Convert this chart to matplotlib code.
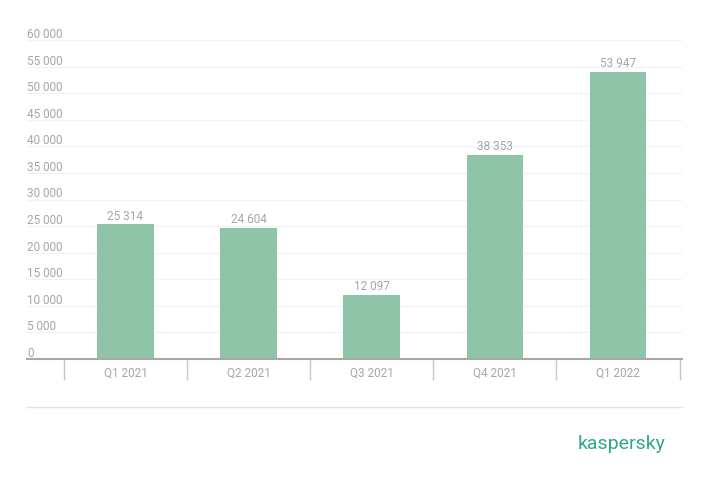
import matplotlib
matplotlib.use("Agg")
import matplotlib.pyplot as plt
from matplotlib.lines import Line2D
from matplotlib.ticker import FixedLocator, NullFormatter

QUARTERS = ['Q1 2021', 'Q2 2021', 'Q3 2021', 'Q4 2021', 'Q1 2022']
ATTACKS = [25314, 24604, 12097, 38353, 53947]
Y_TICKS = list(range(0, 60001, 5000))

BAR_COLOR = '#8fc4a8'
TEXT_COLOR = '#a6a6a6'


def fmt(v):
    return f'{v:,}'.replace(',', ' ')


plt.rcParams['font.family'] = ['Roboto', 'DejaVu Sans']

fig = plt.figure(figsize=(7.08, 4.81), dpi=100)
ax = fig.add_axes([27 / 708, 1 - 360 / 481, 655 / 708, (360 - 41) / 481])

x = list(range(len(QUARTERS)))
ax.bar(x, ATTACKS, width=0.46, color=BAR_COLOR, zorder=2)

for xi, v in zip(x, ATTACKS):
    ax.annotate(fmt(v), (xi, v), xytext=(0, 2), textcoords='offset points',
                ha='center', va='bottom', fontsize=8.5, color=TEXT_COLOR)

ax.set_xlim(-0.8, len(QUARTERS) - 0.48)
ax.set_ylim(0, 60000)

# horizontal grid with labels sitting above each line
for t in Y_TICKS:
    if t > 0:
        ax.axhline(t, color='#f2f2f2', linewidth=0.9, zorder=0)
    ax.text(0.0, t, fmt(t), transform=ax.get_yaxis_transform(),
            ha='left', va='bottom', fontsize=8.5, color=TEXT_COLOR)

ax.set_yticks([])
for side in ['top', 'right', 'left']:
    ax.spines[side].set_visible(False)
ax.spines['bottom'].set_color('#a8a8a8')
ax.spines['bottom'].set_linewidth(1.5)

ax.set_xticks(x)
ax.set_xticklabels(QUARTERS, fontsize=8.5, color=TEXT_COLOR)
ax.tick_params(axis='x', which='major', length=0, pad=5)
ax.xaxis.set_minor_locator(FixedLocator([i - 0.5 for i in range(len(QUARTERS) + 1)]))
ax.xaxis.set_minor_formatter(NullFormatter())
ax.tick_params(axis='x', which='minor', length=15, width=1, color='#c8c8c8')

fig.add_artist(Line2D([27 / 708, 682 / 708], [1 - 408 / 481, 1 - 408 / 481],
                      color='#e2e2e2', linewidth=1))
fig.text(622 / 708, 1 - 444 / 481, 'kaspersky', ha='center', va='center',
         fontsize=14, color='#2fa88a')

fig.savefig('out.png', dpi=100)
